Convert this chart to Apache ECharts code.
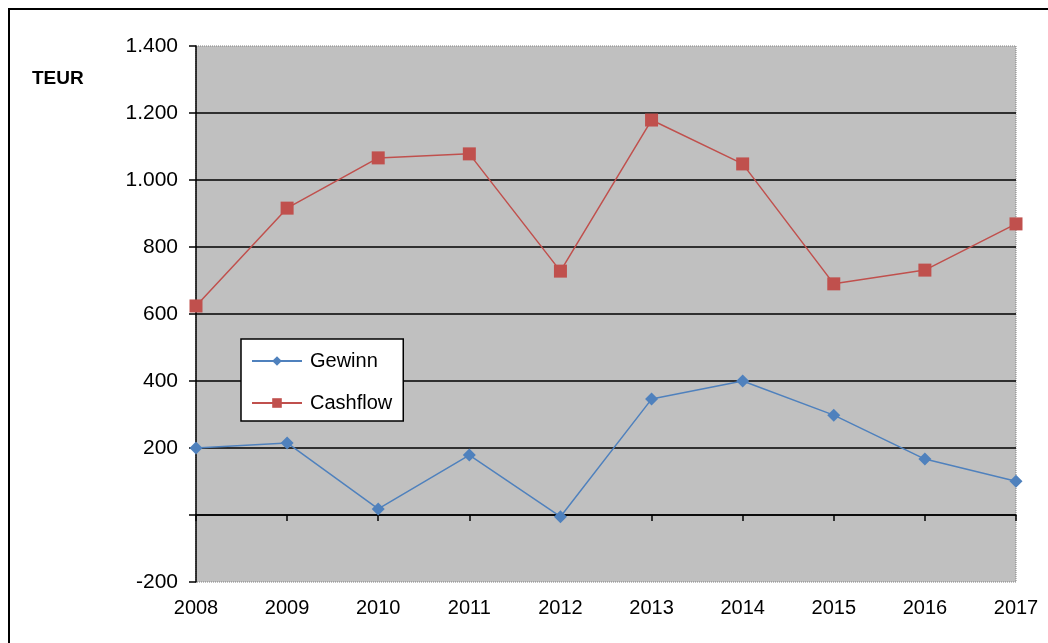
<!DOCTYPE html>
<html>
<head>
<meta charset="utf-8">
<script src="https://cdn.jsdelivr.net/npm/echarts@6/dist/echarts.min.js"></script>
<style>
  html,body{margin:0;padding:0;background:#fff;}
  #main{width:1048px;height:643px;}
</style>
</head>
<body>
<div id="main"></div>
<script>
var years = ["2008","2009","2010","2011","2012","2013","2014","2015","2016","2017"];
var gewinn = [200, 215, 18, 179, -5, 346, 400, 298, 167, 101];
var cashflow = [624, 916, 1066, 1078, 728, 1179, 1048, 690, 731, 869];
var yTicks = [-200, 0, 200, 400, 600, 800, 1000, 1200, 1400];

var myChart = echarts.init(document.getElementById('main'));

// gridline colours: outer ones hidden, border drawn by grid
var splitColors = yTicks.map(function(v, i){
    return (i == 0 || i == yTicks.length - 1) ? 'rgba(0,0,0,0)' : '#000';
});

var font = 'Liberation Sans, Arial, sans-serif';

var option = {
    animation: false,
    textStyle: { fontFamily: font },
    graphic: [{
        type: 'rect',
        shape: { x: 9, y: 9, width: 1060, height: 660 },
        style: { fill: 'none', stroke: '#000', lineWidth: 2 },
        silent: true
    }, {
        type: 'text',
        left: 32, top: 69,
        style: { text: 'TEUR', fontSize: 19, fontWeight: 'bold', fontFamily: font, fill: '#000' }
    }],
    grid: {
        left: 196, top: 46, right: 32, bottom: 61,
        show: true,
        backgroundColor: '#c0c0c0',
        borderColor: '#808080',
        borderWidth: 1,
        borderType: 'dotted'
    },
    legend: {
        orient: 'vertical',
        left: 241, top: 339,
        align: 'left',
        backgroundColor: '#fff',
        borderColor: '#000',
        borderWidth: 1.5,
        padding: [12, 11, 8, 10],
        itemWidth: 50,
        itemHeight: 12,
        itemGap: 22,
        textStyle: { fontSize: 20, color: '#000', fontFamily: font, padding: [0, 0, 0, 3] },
        data: ['Gewinn', 'Cashflow']
    },
    xAxis: [{
        type: 'category',
        data: years,
        boundaryGap: false,
        axisLine: { show: false, onZero: false },
        axisTick: { show: false },
        axisLabel: { fontSize: 20, color: '#000', margin: 16 },
        splitLine: { show: false }
    }, {
        type: 'category',
        data: years,
        position: 'bottom',
        boundaryGap: false,
        axisLine: { show: true, onZero: true, lineStyle: { color: '#000', width: 1.5 } },
        axisTick: { show: true, length: 6, lineStyle: { color: '#000', width: 1.5 } },
        axisLabel: { show: false },
        splitLine: { show: false }
    }],
    yAxis: {
        type: 'value',
        min: yTicks[0],
        max: yTicks[yTicks.length - 1],
        interval: 200,
        axisLine: { show: true, lineStyle: { color: '#000', width: 1.5 } },
        axisTick: { show: true, length: 7, lineStyle: { color: '#000', width: 1.5 } },
        axisLabel: {
            fontSize: 21, color: '#000', margin: 18,
            formatter: function(v){
                if (v == 0) return '';
                var s = String(Math.abs(v)).replace(/\B(?=(\d{3})+(?!\d))/g, '.');
                return (v < 0 ? '-' : '') + s;
            }
        },
        splitLine: { show: true, lineStyle: { color: splitColors, width: 1.5 } }
    },
    series: [{
        name: 'Gewinn',
        type: 'line',
        data: gewinn,
        symbol: 'diamond',
        symbolSize: 13,
        itemStyle: { color: '#4f81bd' },
        lineStyle: { color: '#4f81bd', width: 1.5 },
        z: 3
    }, {
        name: 'Cashflow',
        type: 'line',
        data: cashflow,
        symbol: 'rect',
        symbolSize: 13,
        itemStyle: { color: '#c0504d' },
        lineStyle: { color: '#c0504d', width: 1.5 },
        z: 3
    }]
};

myChart.setOption(option);
</script>
</body>
</html>
